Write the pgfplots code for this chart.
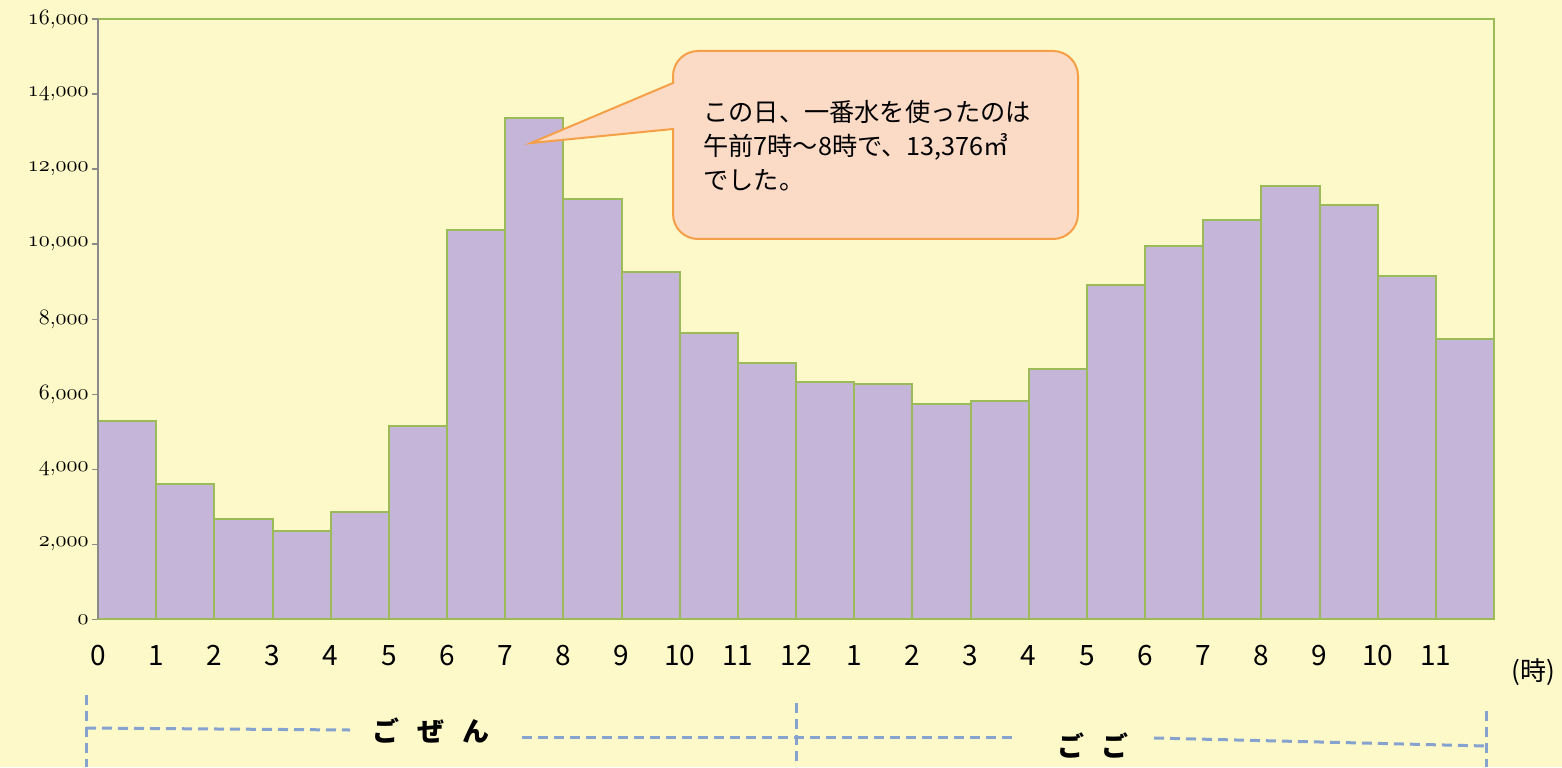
\documentclass[border=0pt]{standalone}
\usepackage{pgfplots}
\pgfplotsset{compat=1.18}
\usepackage{fontspec}
\newfontfamily\jp{Noto Sans CJK JP}
\definecolor{bg}{HTML}{FEF9C9}
\definecolor{barfill}{HTML}{C4B5D9}
\definecolor{baredge}{HTML}{9BBB59}
\definecolor{axgray}{HTML}{8A8A8A}
\definecolor{callfill}{HTML}{FBDAC6}
\definecolor{calledge}{HTML}{F5A048}
\definecolor{dashblue}{HTML}{86A3CF}
\newcommand\osfont{\usefont{OML}{cmm}{m}{it}}
\newcommand\osa[1]{\mbox{\osfont #1}}
\newcommand\osb[2]{\mbox{\osfont #1\normalfont,\osfont #2}}
\begin{document}
\begin{tikzpicture}
\useasboundingbox (0,0) rectangle (781pt,383.5pt);
\fill[bg] (0,0) rectangle (781pt,383.5pt);
\begin{axis}[
  at={(49pt,73.85pt)}, anchor=south west,
  scale only axis, width=698pt, height=300pt,
  xmin=0, xmax=24, ymin=0, ymax=16000,
  scaled y ticks=false, scaled x ticks=false,
  axis line style={draw=none},
  clip=false,
  xtick={0,1,...,23},
  xticklabels={0,1,2,3,4,5,6,7,8,9,10,11,12,1,2,3,4,5,6,7,8,9,10,11},
  xtick align=inside,
  x tick style={draw=none},
  xtick pos=bottom,
  xticklabel style={font=\jp\fontsize{14}{14}\selectfont, anchor=base, yshift=-23.3pt, inner sep=0pt},
  ytick={0,2000,4000,6000,8000,10000,12000,14000,16000},
  yticklabels={{\osa{0}},{\osb{2}{000}},{\osb{4}{000}},{\osb{6}{000}},{\osb{8}{000}},{\osb{10}{000}},{\osb{12}{000}},{\osb{14}{000}},{\osb{16}{000}}},
  ytick align=outside,
  ytick pos=left,
  y tick style={draw=axgray, line width=0.8pt},
  major tick length=3pt,
  yticklabel style={font=\fontsize{11}{12}\selectfont, inner sep=1.5pt},
]
\addplot[ybar, bar width=1, bar shift=0pt, fill=barfill, draw=baredge, line width=1pt]
coordinates {
(0.5,5300) (1.5,3600) (2.5,2670) (3.5,2360) (4.5,2850) (5.5,5160)
(6.5,10380) (7.5,13376) (8.5,11200) (9.5,9270) (10.5,7630) (11.5,6835)
(12.5,6335) (13.5,6265) (14.5,5740) (15.5,5830) (16.5,6685) (17.5,8915)
(18.5,9955) (19.5,10650) (20.5,11565) (21.5,11050) (22.5,9155) (23.5,7475)
};
\draw[baredge, line width=0.8pt] (axis cs:0,0) -- (axis cs:24,0) -- (axis cs:24,16000) -- (axis cs:0,16000);
\draw[axgray, line width=1pt] (axis cs:0,0) -- (axis cs:0,16000);
\end{axis}
\begin{scope}[x=0.5pt,y=0.5pt]
% callout
\draw[fill=callfill, draw=calledge, line width=1pt, line join=miter]
  (531,624) -- (673,638) -- (673,553) arc[start angle=180,end angle=270,radius=12.5pt]
  -- (1053,528) arc[start angle=270,end angle=360,radius=12.5pt]
  -- (1078,691) arc[start angle=0,end angle=90,radius=12.5pt]
  -- (698,716) arc[start angle=90,end angle=180,radius=12.5pt]
  -- (673,684) -- cycle;
\node[anchor=base west, inner sep=0, font=\jp\fontsize{12.6}{12.6}\selectfont] at (703,645) {この日、一番水を使ったのは};
\node[anchor=base west, inner sep=0, font=\jp\fontsize{12.6}{12.6}\selectfont] at (703,611) {午前7時～8時で、13,376㎥};
\node[anchor=base west, inner sep=0, font=\jp\fontsize{12.6}{12.6}\selectfont] at (703,577) {でした。};
% unit
\node[font=\jp\fontsize{13}{13}\selectfont, inner sep=0] at (1533,95) {(時)};
% am/pm brackets
\begin{scope}[dashblue, line width=1.5pt, dash pattern=on 5pt off 3pt]
\draw (86,72) -- (86,0);
\draw (86,39) -- (350,37);
\draw (796,64) -- (796,0);
\draw (522,30) -- (1015,30);
\draw (1154,29) -- (1486,21);
\draw (1486,56) -- (1486,0);
\end{scope}
\node[font=\jp\bfseries\fontsize{13.5}{13.5}\selectfont, inner sep=0] at (431,36) {ご\hspace{9pt}ぜ\hspace{9pt}ん};
\node[font=\jp\bfseries\fontsize{13.5}{13.5}\selectfont, inner sep=0] at (1093,21) {ご\hspace{9pt}ご};
\end{scope}
\end{tikzpicture}
\end{document}
